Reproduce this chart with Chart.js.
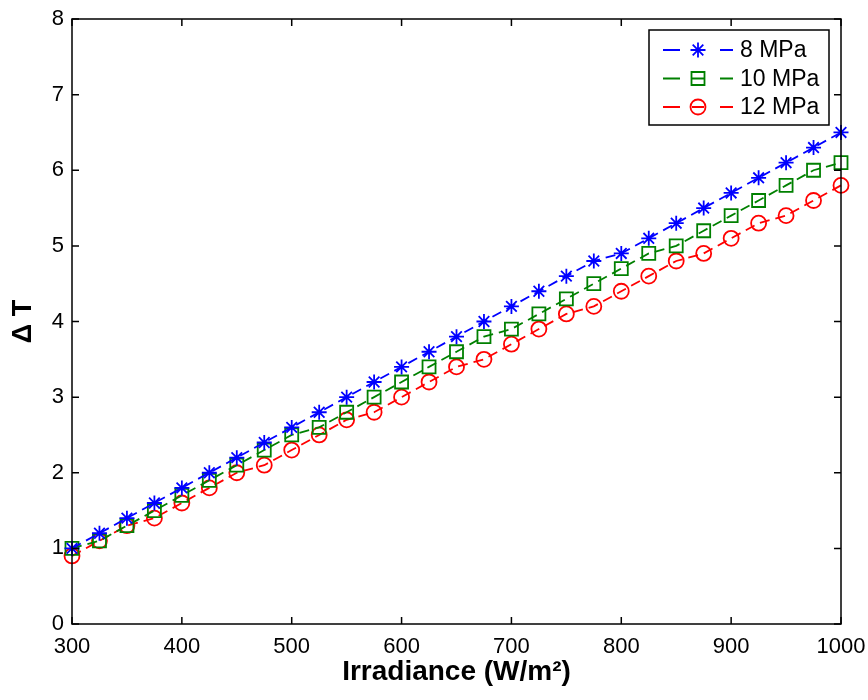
<!DOCTYPE html>
<html>
<head>
<meta charset="utf-8">
<title>Delta T vs irradiance</title>
<script src="https://cdn.jsdelivr.net/npm/chart.js@4/dist/chart.umd.min.js"></script>
<style>
  html, body { margin: 0; padding: 0; background: #fff; }
  #chart { display: block; }
</style>
</head>
<body>
<canvas id="chart" width="868" height="700"></canvas>
<script>
// irradiance in W/m2, one point every 25
const irradiance = [300, 325, 350, 375, 400, 425, 450, 475, 500, 525, 550, 575, 600, 625, 650,
  675, 700, 725, 750, 775, 800, 825, 850, 875, 900, 925, 950, 975, 1000];

const dt8 = [1.0, 1.2, 1.4, 1.6, 1.8, 2.0, 2.2, 2.4, 2.6, 2.8, 3.0, 3.2, 3.4, 3.6, 3.8,
  4.0, 4.2, 4.4, 4.6, 4.8, 4.9, 5.1, 5.3, 5.5, 5.7, 5.9, 6.1, 6.3, 6.5];
const dt10 = [1.0, 1.1, 1.3, 1.5, 1.7, 1.9, 2.1, 2.3, 2.5, 2.6, 2.8, 3.0, 3.2, 3.4, 3.6,
  3.8, 3.9, 4.1, 4.3, 4.5, 4.7, 4.9, 5.0, 5.2, 5.4, 5.6, 5.8, 6.0, 6.1];
const dt12 = [0.9, 1.1, 1.3, 1.4, 1.6, 1.8, 2.0, 2.1, 2.3, 2.5, 2.7, 2.8, 3.0, 3.2, 3.4,
  3.5, 3.7, 3.9, 4.1, 4.2, 4.4, 4.6, 4.8, 4.9, 5.1, 5.3, 5.4, 5.6, 5.8];

const seriesNames = ['8 MPa', '10 MPa', '12 MPa'];
const xTicks = [300, 400, 500, 600, 700, 800, 900, 1000];
const yTicks = [0, 1, 2, 3, 4, 5, 6, 7, 8];

const FONT = '"Liberation Sans", Arial, Helvetica, sans-serif';

function toPoints(ys) {
  return irradiance.map((x, i) => ({ x: x, y: ys[i] }));
}

function makeSet(label, ys, color, style, radius) {
  return {
    label: label,
    data: toPoints(ys),
    borderColor: color,
    backgroundColor: 'rgba(0,0,0,0)',
    borderWidth: 1.8,
    borderDash: [10, 6],
    pointStyle: style,
    pointRadius: radius,
    pointBorderWidth: 1.8,
    pointBorderColor: color,
    pointBackgroundColor: 'rgba(0,0,0,0)',
    tension: 0,
    clip: false
  };
}

// box round the axes, with matlab style inward ticks on all four sides
const framePlugin = {
  id: 'frame',
  afterDatasetsDraw(chart) {
    const { ctx, chartArea: a } = chart;
    const xs = chart.scales.x, ys = chart.scales.y;
    const len = 7;
    ctx.save();
    ctx.strokeStyle = '#000';
    ctx.lineWidth = 1.5;
    ctx.strokeRect(a.left, a.top, a.right - a.left, a.bottom - a.top);
    ctx.beginPath();
    xTicks.forEach(v => {
      const px = xs.getPixelForValue(v);
      ctx.moveTo(px, a.bottom); ctx.lineTo(px, a.bottom - len);
      ctx.moveTo(px, a.top); ctx.lineTo(px, a.top + len);
    });
    yTicks.forEach(v => {
      const py = ys.getPixelForValue(v);
      ctx.moveTo(a.left, py); ctx.lineTo(a.left + len, py);
      ctx.moveTo(a.right, py); ctx.lineTo(a.right - len, py);
    });
    ctx.stroke();
    ctx.restore();
  }
};

// legend: dashed line with the marker in the middle, like the original
const legendPlugin = {
  id: 'boxLegend',
  afterDraw(chart) {
    const { ctx, chartArea: a } = chart;
    const boxW = 180, boxH = 95;
    const left = a.right - 12 - boxW, top = a.top + 11;
    ctx.save();
    ctx.fillStyle = '#fff';
    ctx.fillRect(left, top, boxW, boxH);
    ctx.strokeStyle = '#000';
    ctx.lineWidth = 1.5;
    ctx.strokeRect(left, top, boxW, boxH);

    chart.data.datasets.forEach((ds, i) => {
      const y = top + 20 + i * 28.5;
      const x0 = left + 14, x1 = left + 84, xm = (x0 + x1) / 2;
      ctx.strokeStyle = ds.borderColor;
      ctx.lineWidth = ds.borderWidth;
      ctx.beginPath();
      ctx.moveTo(x0, y); ctx.lineTo(x0 + 17, y);
      ctx.moveTo(xm - 6, y); ctx.lineTo(xm + 6, y);
      ctx.moveTo(x1 - 13, y); ctx.lineTo(x1, y);
      ctx.stroke();
      ctx.fillStyle = 'rgba(0,0,0,0)';
      ctx.lineWidth = ds.pointBorderWidth;
      Chart.helpers.drawPoint(ctx, {
        pointStyle: ds.pointStyle,
        radius: ds.pointRadius,
        borderWidth: ds.pointBorderWidth
      }, xm, y);
      ctx.fillStyle = '#000';
      ctx.font = '23px ' + FONT;
      ctx.textBaseline = 'middle';
      ctx.textAlign = 'left';
      ctx.fillText(ds.label, left + 91, y + 1);
    });
    ctx.restore();
  }
};

const chart = new Chart(document.getElementById('chart'), {
  type: 'line',
  data: {
    datasets: [
      makeSet(seriesNames[0], dt8, '#0000ff', 'star', 7.5),
      makeSet(seriesNames[1], dt10, '#008000', 'rect', 9.2),
      makeSet(seriesNames[2], dt12, '#ff0000', 'circle', 7.5)
    ]
  },
  options: {
    responsive: false,
    animation: false,
    devicePixelRatio: 1,
    layout: { padding: { left: 0, right: 27, top: 19, bottom: 0 } },
    plugins: {
      legend: { display: false },
      tooltip: { enabled: false }
    },
    scales: {
      x: {
        type: 'linear',
        min: 300,
        max: 1000,
        afterFit: s => { s.height = 76; s.paddingLeft = 0; s.paddingRight = 0; },
        afterBuildTicks: s => { s.ticks = xTicks.map(v => ({ value: v })); },
        grid: { display: false, drawTicks: false, tickLength: 0 },
        border: { display: false },
        ticks: {
          color: '#000', padding: 10, maxRotation: 0,
          font: { family: FONT, size: 22 },
          callback: v => String(v)
        },
        title: {
          display: true,
          text: 'Irradiance (W/m²)',
          color: '#000',
          font: { family: FONT, size: 28, weight: 'bold' },
          padding: { top: 0, bottom: 11 }
        }
      },
      y: {
        min: 0,
        max: 8,
        afterFit: s => { s.width = 72; s.paddingTop = 0; s.paddingBottom = 0; },
        afterBuildTicks: s => { s.ticks = yTicks.map(v => ({ value: v })); },
        grid: { display: false, drawTicks: false, tickLength: 0 },
        border: { display: false },
        ticks: { color: '#000', padding: 8, font: { family: FONT, size: 22 } },
        title: {
          display: true,
          text: 'Δ T',
          color: '#000',
          font: { family: FONT, size: 27, weight: 'bold' },
          padding: { top: 7, bottom: 0 }
        }
      }
    }
  },
  plugins: [framePlugin, legendPlugin]
});
</script>
</body>
</html>
